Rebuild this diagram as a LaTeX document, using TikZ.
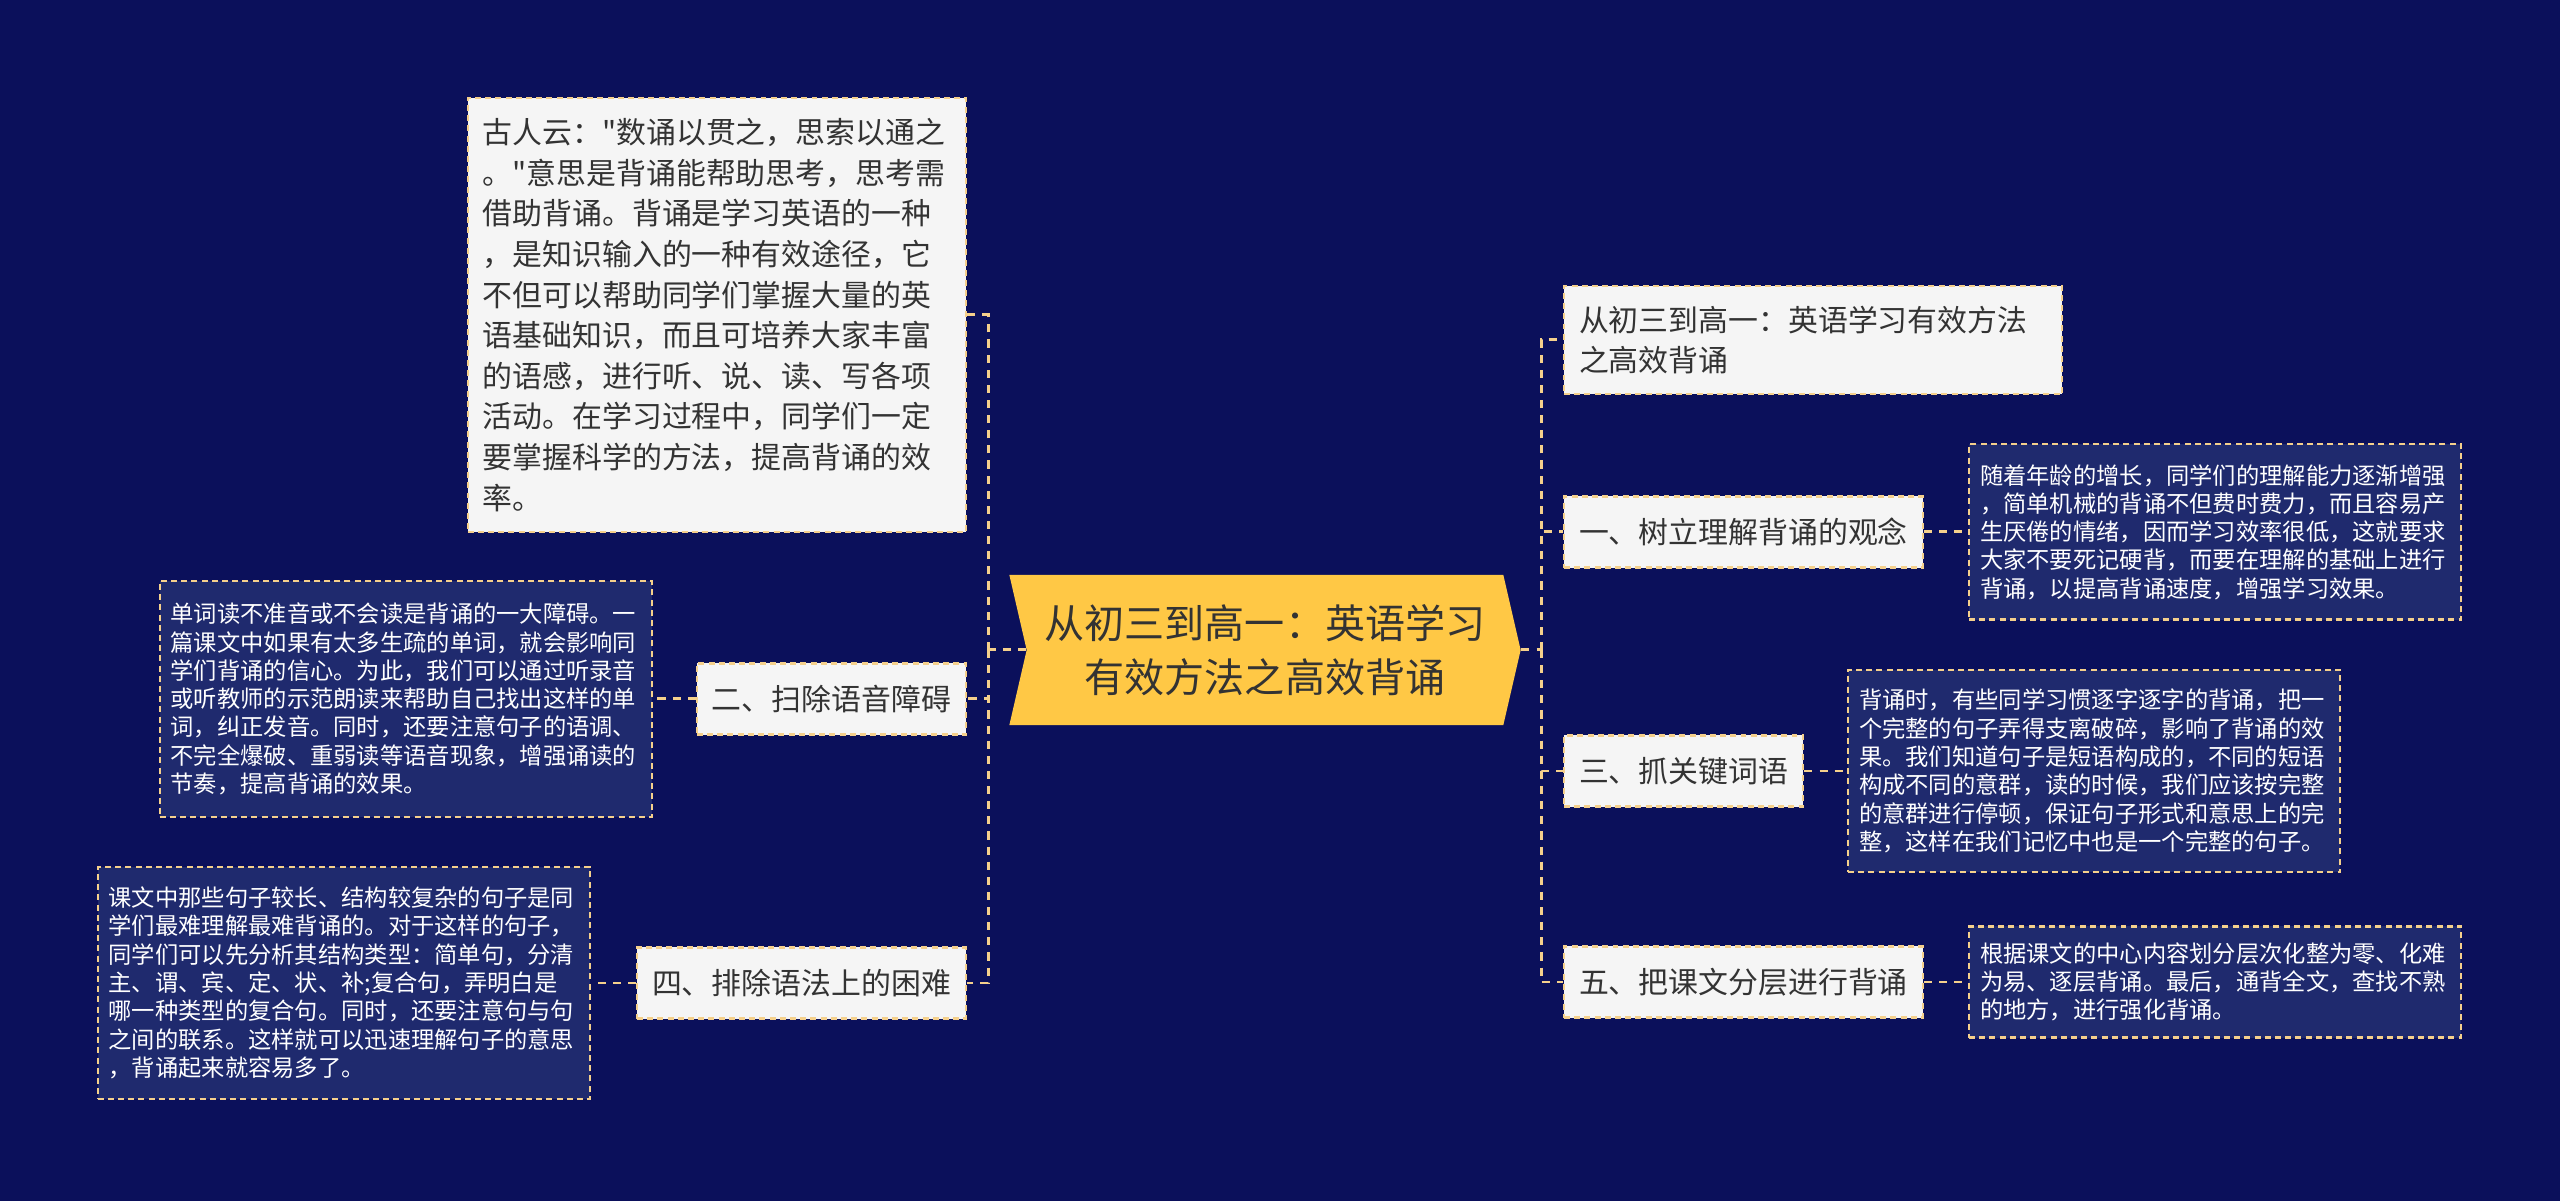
\documentclass[tikz,border=0pt]{standalone}
\usepackage{fontspec}
\setmainfont{Noto Sans CJK SC}[Ligatures=TeXOff]
\usepackage{tikz}
\usetikzlibrary{shapes.symbols, positioning, calc}

\definecolor{bgnavy}{HTML}{0B105B}
\definecolor{noteblue}{HTML}{1F2A6E}
\definecolor{linegold}{HTML}{F5D08C}
\definecolor{rootgold}{HTML}{FFC845}
\definecolor{topicgray}{HTML}{F5F5F5}
\definecolor{textdark}{HTML}{333333}

\begin{document}
\begin{tikzpicture}[x=0.01cm, y=-0.01cm,
        rootnode/.style={signal, signal from=west, signal to=east, signal pointer angle=154,
                    fill=rootgold, text=textdark, align=center,
                    minimum width=5.11cm, minimum height=1.5cm,
                    font=\fontsize{11.4}{15.2}\selectfont},
        topicbox/.style={rectangle, draw=linegold, line width=0.6pt, dash pattern=on 1.7pt off 1.2pt,
                    fill=topicgray, text=textdark, align=left,
                    minimum height=0.71cm, inner xsep=0.15cm, inner ysep=0.1cm,
                    font=\fontsize{8.5}{11.55}\selectfont},
        notebox/.style={rectangle, draw=linegold, line width=0.6pt, dash pattern=on 1.7pt off 1.2pt,
                    fill=noteblue, text=white, align=left, text width=4.70cm,
                    inner xsep=0.11cm, inner ysep=0.1cm,
                    font=\fontsize{6.62}{8.05}\selectfont},
        link/.style={draw=linegold, line width=0.85pt, dash pattern=on 2.3pt off 2pt}
    ]
    \fill[bgnavy] (0,0) rectangle (2560,1201);

    \node[rootnode] (root) at (1265,650) {从初三到高一：英语学习\\有效方法之高效背诵};

    % left side
    \node[topicbox, anchor=east, text width=4.68cm, minimum height=4.34cm] (quote) at (967,315)
        {古人云："数诵以贯之，思索以通之\\。"意思是背诵能帮助思考，思考需\\借助背诵。背诵是学习英语的一种\\，是知识输入的一种有效途径，它\\不但可以帮助同学们掌握大量的英\\语基础知识，而且可培养大家丰富\\的语感，进行听、说、读、写各项\\活动。在学习过程中，同学们一定\\要掌握科学的方法，提高背诵的效\\率。};
    \node[topicbox, anchor=east] (sound) at (967,699) {二、扫除语音障碍};
    \node[notebox, anchor=east, minimum height=2.36cm] (soundnote) at (653,699)
        {单词读不准音或不会读是背诵的一大障碍。一\\篇课文中如果有太多生疏的单词，就会影响同\\学们背诵的信心。为此，我们可以通过听录音\\或听教师的示范朗读来帮助自己找出这样的单\\词，纠正发音。同时，还要注意句子的语调、\\不完全爆破、重弱读等语音现象，增强诵读的\\节奏，提高背诵的效果。};
    \node[topicbox, anchor=east] (grammar) at (967,983) {四、排除语法上的困难};
    \node[notebox, anchor=east, minimum height=2.32cm] (grammarnote) at (591,983)
        {课文中那些句子较长、结构较复杂的句子是同\\学们最难理解最难背诵的。对于这样的句子，\\同学们可以先分析其结构类型：简单句，分清\\主、谓、宾、定、状、补;复合句，弄明白是\\哪一种类型的复合句。同时，还要注意句与句\\之间的联系。这样就可以迅速理解句子的意思\\，背诵起来就容易多了。};

    % right side
    \node[topicbox, anchor=west, text width=4.68cm, minimum height=1.08cm] (title) at (1563,340)
        {从初三到高一：英语学习有效方法\\之高效背诵};
    \node[topicbox, anchor=west] (idea) at (1563,532) {一、树立理解背诵的观念};
    \node[notebox, anchor=west, minimum height=1.75cm] (ideanote) at (1968,532)
        {随着年龄的增长，同学们的理解能力逐渐增强\\，简单机械的背诵不但费时费力，而且容易产\\生厌倦的情绪，因而学习效率很低，这就要求\\大家不要死记硬背，而要在理解的基础上进行\\背诵，以提高背诵速度，增强学习效果。};
    \node[topicbox, anchor=west] (keyword) at (1563,771) {三、抓关键词语};
    \node[notebox, anchor=west, minimum height=2.02cm] (keywordnote) at (1847,771)
        {背诵时，有些同学习惯逐字逐字的背诵，把一\\个完整的句子弄得支离破碎，影响了背诵的效\\果。我们知道句子是短语构成的，不同的短语\\构成不同的意群，读的时候，我们应该按完整\\的意群进行停顿，保证句子形式和意思上的完\\整，这样在我们记忆中也是一个完整的句子。};
    \node[topicbox, anchor=west] (layer) at (1563,982) {五、把课文分层进行背诵};
    \node[notebox, anchor=west, minimum height=1.11cm] (layernote) at (1968,982)
        {根据课文的中心内容划分层次化整为零、化难\\为易、逐层背诵。最后，通背全文，查找不熟\\的地方，进行强化背诵。};

    \coordinate (ltrunk) at (988,650);
    \coordinate (rtrunk) at (1541,650);

    \draw[link] (root.west) -- (ltrunk);
    \draw[link] (ltrunk) |- (quote.east);
    \draw[link] (ltrunk) |- (sound.east);
    \draw[link] (ltrunk) |- (grammar.east);
    \draw[link] (root.east) -- (rtrunk);
    \draw[link] (rtrunk) |- (title.west);
    \draw[link] (rtrunk) |- (idea.west);
    \draw[link] (rtrunk) |- (keyword.west);
    \draw[link] (rtrunk) |- (layer.west);

    \draw[link] (sound.west) -- (soundnote.east);
    \draw[link] (grammar.west) -- (grammarnote.east);
    \draw[link] (idea.east) -- (ideanote.west);
    \draw[link] (keyword.east) -- (keywordnote.west);
    \draw[link] (layer.east) -- (layernote.west);
\end{tikzpicture}
\end{document}
